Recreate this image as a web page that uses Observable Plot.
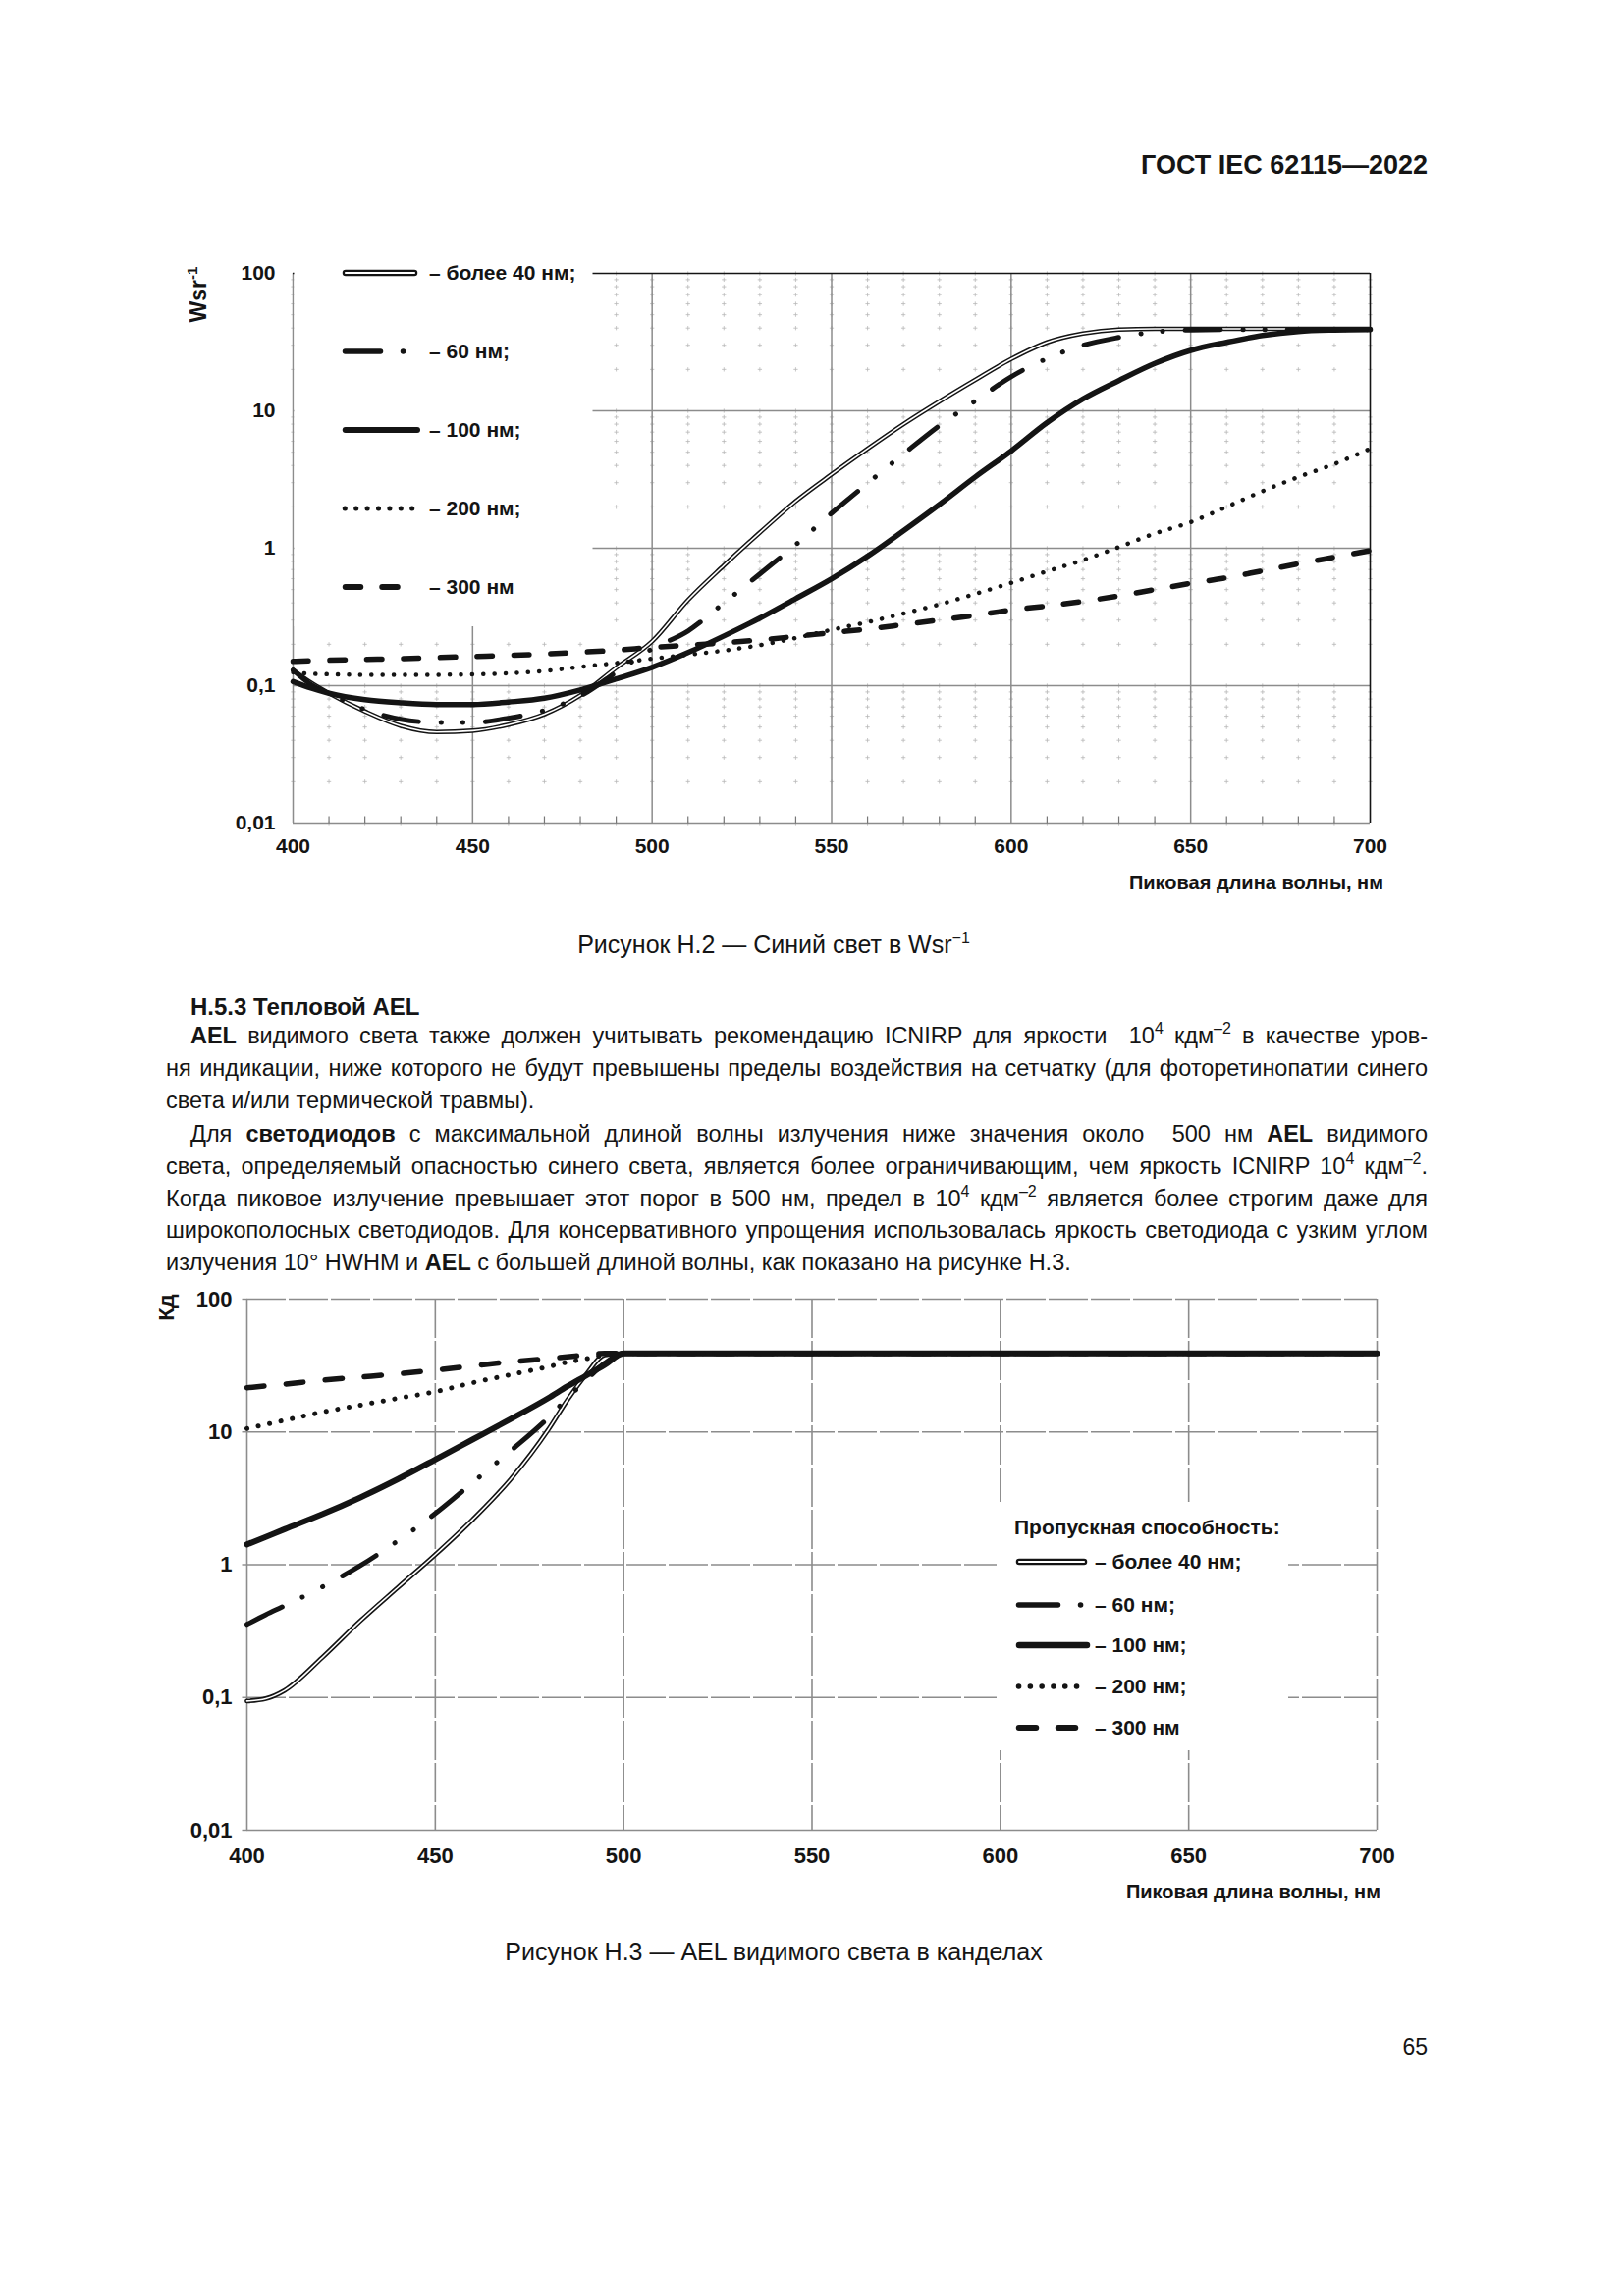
<!DOCTYPE html>
<html><head><meta charset="utf-8">
<script src="https://cdn.jsdelivr.net/npm/d3@7"></script>
<script src="https://cdn.jsdelivr.net/npm/@observablehq/plot@0.6"></script>
<style>
html,body{margin:0;padding:0;background:#fff;}
#page{position:relative;width:1654px;height:2339px;background:#fff;font-family:"Liberation Sans",Arial,sans-serif;color:#151515;overflow:hidden;}
.abs{position:absolute;white-space:nowrap;line-height:33px;}
.ln{position:absolute;left:169px;width:1285px;height:33px;line-height:33px;font-size:23.5px;}
.ind{left:194px;width:1260px;}
.j{text-align:justify;text-align-last:justify;}
sup{font-size:16px;line-height:0;vertical-align:baseline;position:relative;top:-10px;}
.chart{position:absolute;}
</style></head>
<body><div id="page">
<div class="abs" style="right:200px;top:152px;font-size:27px;font-weight:bold;">ГОСТ IEC 62115—2022</div>
<div class="chart" id="c1" style="left:150px;top:240px;"></div>
<div class="abs" style="left:0;width:1576px;text-align:center;top:946px;font-size:25px;">Рисунок Н.2 — Синий свет в Wsr<sup>−1</sup></div>
<div class="ln ind" style="top:1009px;font-weight:bold;font-size:24px;">Н.5.3 Тепловой AEL</div>
<div class="ln ind j" style="top:1039px;"><b>AEL</b> видимого света также должен учитывать рекомендацию ICNIRP для яркости&nbsp; 10<sup>4</sup> кдм<sup>–2</sup> в качестве уров-</div>
<div class="ln j" style="top:1072px;">ня индикации, ниже которого не будут превышены пределы воздействия на сетчатку (для фоторетинопатии синего</div>
<div class="ln" style="top:1105px;">света и/или термической травмы).</div>
<div class="ln ind j" style="top:1139px;">Для <b>светодиодов</b> с максимальной длиной волны излучения ниже значения около&nbsp; 500 нм <b>AEL</b> видимого</div>
<div class="ln j" style="top:1172px;">света, определяемый опасностью синего света, является более ограничивающим, чем яркость ICNIRP 10<sup>4</sup> кдм<sup>–2</sup>.</div>
<div class="ln j" style="top:1205px;">Когда пиковое излучение превышает этот порог в 500 нм, предел в 10<sup>4</sup> кдм<sup>–2</sup> является более строгим даже для</div>
<div class="ln j" style="top:1237px;">широкополосных светодиодов. Для консервативного упрощения использовалась яркость светодиода с узким углом</div>
<div class="ln" style="top:1270px;">излучения 10° HWHM и <b>AEL</b> с большей длиной волны, как показано на рисунке Н.3.</div>
<div class="chart" id="c2" style="left:150px;top:1300px;"></div>
<div class="abs" style="left:0;width:1576px;text-align:center;top:1972px;font-size:25px;">Рисунок Н.3 — AEL видимого света в канделах</div>
<div class="abs" style="right:200px;top:2069px;font-size:23px;">65</div>
</div>
<script>
// keep every text line on one line: tighten letter-spacing only if a line would wrap
document.querySelectorAll('.ln').forEach(el => {
  const avail = el.clientWidth;
  const span = document.createElement('span');
  span.style.whiteSpace = 'nowrap';
  while (el.firstChild) span.appendChild(el.firstChild);
  el.appendChild(span);
  const w = span.getBoundingClientRect().width;
  if (w > avail - 2) {
    const n = span.textContent.length;
    el.style.letterSpacing = ((avail - 2 - w) / n) + 'px';
  }
  span.style.whiteSpace = 'normal';
});

// ---------- data ----------
const xTicks = [400, 450, 500, 550, 600, 650, 700];
const yTicks = [0.01, 0.1, 1, 10, 100];
const yTickLabels = ["0,01", "0,1", "1", "10", "100"];
const minorX = [410,420,430,440,460,470,480,490,510,520,530,540,560,570,580,590,610,620,630,640,660,670,680,690];
const minorFactors = [2, 3, 4, 5, 6, 7, 8, 9];
const seriesLabels = ["– более 40 нм;", "– 60 нм;", "– 100 нм;", "– 200 нм;", "– 300 нм"];
const legendTitle2 = "Пропускная способность:";
const yTitle1 = "Wsr";
const yTitle1Sup = "-1";
const yTitle2 = "Кд";
const xTitle = "Пиковая длина волны, нм";

// Figure H.2 — blue light, Wsr^-1
const wavelengths1 = [400,405,410,420,430,440,450,460,470,480,490,500,510,520,530,540,550,560,570,580,590,600,610,620,630,640,650,660,670,680,690,700];
const blue40  = [0.13,0.105,0.088,0.065,0.051,0.046,0.047,0.052,0.062,0.085,0.135,0.21,0.42,0.75,1.3,2.2,3.45,5.3,8.0,11.7,16.8,23.8,31.5,36.5,39,39.5,39.5,39.5,39.5,39.5,39.5,39.5];
const blue60  = [0.13,0.102,0.088,0.067,0.057,0.054,0.054,0.058,0.066,0.084,0.125,0.185,0.25,0.40,0.65,1.06,1.8,2.97,4.85,7.8,11.8,17.7,24,30,34.2,37.5,38.7,39,39,39,39,39];
const blue100 = [0.107,0.096,0.088,0.079,0.075,0.073,0.073,0.076,0.081,0.093,0.112,0.136,0.174,0.23,0.31,0.43,0.6,0.875,1.34,2.08,3.3,5.1,8.2,12.2,16.6,22.1,27.5,31.5,35.3,37.8,38.7,39];
const blue200 = [0.125,0.122,0.121,0.12,0.12,0.12,0.121,0.123,0.128,0.137,0.146,0.157,0.168,0.18,0.197,0.222,0.255,0.29,0.335,0.39,0.465,0.56,0.68,0.82,1.02,1.28,1.55,2.0,2.6,3.3,4.1,5.3];
const blue300 = [0.15,0.152,0.153,0.155,0.157,0.16,0.163,0.166,0.17,0.175,0.181,0.19,0.197,0.205,0.215,0.228,0.243,0.258,0.278,0.3,0.325,0.355,0.38,0.41,0.45,0.5,0.555,0.61,0.685,0.77,0.86,0.96];

// Figure H.3 — visible AEL, cd
const wavelengths2 = [400,405,410,420,430,440,450,460,470,480,485,490,495,500,550,600,650,700];
const cd40  = [0.094,0.098,0.113,0.2,0.375,0.67,1.19,2.2,4.4,10.4,17.3,27,38,39,39,39,39,39];
const cd60  = [0.355,0.42,0.49,0.68,0.98,1.51,2.43,4.17,7.2,12.8,17.9,24.5,33,39,39,39,39,39];
const cd100 = [1.42,1.62,1.85,2.4,3.2,4.4,6.2,8.8,12.5,18,22,26.5,32,39,39,39,39,39];
const cd200 = [10.6,11.4,12.25,14.1,15.9,17.9,20.1,23.5,27,31,33.5,35.5,38,39,39,39,39,39];
const cd300 = [21.5,22.2,22.9,24.5,25.9,27.4,29.2,31.5,33.7,35.7,36.8,38,39,39,39,39,39,39];

// ---------- styles ----------
const INK = "#141414";
const GRID = "#8c8c8c";
const FONT = "Liberation Sans, Arial, sans-serif";
const styles1 = [
  {kind: "double", outer: 4.6, inner: 1.6},
  {width: 5, dash: "36,23,0.1,22,0.1,23"},
  {width: 5.5, dash: null},
  {width: 4.5, dash: "0.1,11.3"},
  {width: 5.5, dash: "15.5,22"}
];
const styles2 = [
  {kind: "double", outer: 4.8, inner: 1.6},
  {width: 5, dash: "40,23,0.1,23,0.1,23"},
  {width: 6, dash: null},
  {width: 5, dash: "0.1,11.7"},
  {width: 5.5, dash: "17.5,22.5"}
];

const rowsOf = (ws, vs) => ws.map((w, i) => ({w, v: vs[i]}));
function seriesMarks(rows, st) {
  const base = {x: "w", y: "v", curve: "monotone-x", strokeLinecap: "round", strokeLinejoin: "round"};
  if (st.kind === "double") {
    return [
      Plot.line(rows, {...base, stroke: INK, strokeWidth: st.outer}),
      Plot.line(rows, {...base, stroke: "white", strokeWidth: st.inner})
    ];
  }
  return [Plot.line(rows, {...base, stroke: INK, strokeWidth: st.width, strokeDasharray: st.dash || undefined})];
}
const tickUp = {draw(ctx) { ctx.moveTo(0, 0); ctx.lineTo(0, -7); }};
const tickLeft = {draw(ctx) { ctx.moveTo(0, 0); ctx.lineTo(-5, 0); }};

function sampleLine(g, x1, x2, y, st) {
  if (st.kind === "double") {
    g.append("line").attr("x1", x1 + 3).attr("x2", x2 - 3).attr("y1", y).attr("y2", y)
      .attr("stroke", INK).attr("stroke-width", 6.5).attr("stroke-linecap", "round");
    g.append("line").attr("x1", x1 + 3).attr("x2", x2 - 3).attr("y1", y).attr("y2", y)
      .attr("stroke", "white").attr("stroke-width", 2.2).attr("stroke-linecap", "round");
  } else {
    g.append("line").attr("x1", x1 + st.width / 2).attr("x2", x2).attr("y1", y).attr("y2", y)
      .attr("stroke", INK).attr("stroke-width", st.width + 0.5).attr("stroke-linecap", "round")
      .attr("stroke-dasharray", st.dash);
  }
}
function label(g, x, y, txt, size, anchor) {
  return g.append("text").attr("x", x).attr("y", y).attr("dy", "0.35em")
    .attr("text-anchor", anchor || "start").attr("font-family", FONT)
    .attr("font-size", size).attr("font-weight", "bold").attr("fill", INK).text(txt);
}

// ---------- chart 1 ----------
{
  const series = [blue40, blue60, blue100, blue200, blue300];
  const minorY = yTicks.slice(0, -1).flatMap(d => minorFactors.map(f => d * f));
  const crossings = [
    ...minorX.flatMap(x => [...minorY, ...yTicks].map(y => ({x, y}))),
    ...xTicks.flatMap(x => minorY.map(y => ({x, y})))
  ];
  const svg = Plot.plot({
    width: 1300, height: 700,
    marginLeft: 148, marginRight: 55, marginTop: 38, marginBottom: 102,
    x: {domain: [400, 700], axis: null},
    y: {type: "log", domain: [0.01, 100], axis: null},
    style: {fontFamily: FONT, background: "transparent", color: INK},
    marks: [
      Plot.dot(crossings, {x: "x", y: "y", symbol: "plus", r: 1.5, stroke: "#b8b8b8", strokeWidth: 0.8, fill: "none"}),
      Plot.ruleX(xTicks.slice(1, -1), {stroke: GRID, strokeWidth: 1.5}),
      Plot.ruleY(yTicks.slice(1, -1), {stroke: GRID, strokeWidth: 1.5}),
      Plot.ruleX(xTicks.slice(0, 1), {stroke: GRID, strokeWidth: 1.5}),
      Plot.ruleY(yTicks.slice(0, 1), {stroke: GRID, strokeWidth: 1.5}),
      Plot.ruleY(yTicks.slice(-1), {stroke: INK, strokeWidth: 1.6}),
      Plot.ruleX(xTicks.slice(-1), {stroke: INK, strokeWidth: 1.6}),
      Plot.dot(minorX, {x: d => d, frameAnchor: "bottom", symbol: tickUp, stroke: "#777", strokeWidth: 1.2, fill: "none"}),
      Plot.text(xTicks, {x: d => d, frameAnchor: "bottom", dy: 30, text: d => String(d), fontSize: 21, fontWeight: "bold", fill: INK}),
      Plot.text(yTicks, {y: d => d, frameAnchor: "left", dx: -18, textAnchor: "end", text: (d, i) => yTickLabels[i], fontSize: 21, fontWeight: "bold", fill: INK}),
      ...series.flatMap((vs, i) => seriesMarks(rowsOf(wavelengths1, vs), styles1[i]))
    ]
  });
  const first = svg.querySelector('g[aria-label="line"]');
  const gNode = document.createElementNS("http://www.w3.org/2000/svg", "g");
  svg.insertBefore(gNode, first);
  const g = d3.select(gNode);
  g.append("rect").attr("x", 149.5).attr("y", 10).attr("width", 304).attr("height", 388).attr("fill", "white");
  const rowsY = [38, 118, 198, 278, 358];
  styles1.forEach((st, i) => {
    sampleLine(g, 199, 275, rowsY[i], st);
    label(g, 287, rowsY[i], seriesLabels[i], 21);
  });
  const s = d3.select(svg);
  const t = s.append("text").attr("transform", "translate(52,60) rotate(-90)").attr("text-anchor", "middle")
    .attr("font-family", FONT).attr("font-size", 23).attr("font-weight", "bold").attr("fill", INK).attr("dy", "0.35em");
  t.append("tspan").text(yTitle1);
  t.append("tspan").attr("dy", -9).attr("font-size", 15).text(yTitle1Sup);
  label(s, 1259, 659, xTitle, 20, "end");
  document.getElementById("c1").appendChild(svg);
}

// ---------- chart 2 ----------
{
  const series = [cd40, cd60, cd100, cd200, cd300];
  const gridDash = "40,3";
  const svg = Plot.plot({
    width: 1300, height: 650,
    marginLeft: 101, marginRight: 48, marginTop: 23, marginBottom: 86,
    x: {domain: [400, 700], axis: null},
    y: {type: "log", domain: [0.01, 100], axis: null},
    style: {fontFamily: FONT, background: "transparent", color: INK},
    marks: [
      Plot.ruleX(xTicks.slice(1), {stroke: GRID, strokeWidth: 1.6, strokeDasharray: gridDash}),
      Plot.ruleY(yTicks.slice(1), {stroke: GRID, strokeWidth: 1.6, strokeDasharray: gridDash}),
      Plot.ruleX(xTicks.slice(0, 1), {stroke: GRID, strokeWidth: 1.6}),
      Plot.ruleY(yTicks.slice(0, 1), {stroke: GRID, strokeWidth: 1.6}),
      Plot.dot(yTicks, {y: d => d, frameAnchor: "left", symbol: tickLeft, stroke: GRID, strokeWidth: 1.4, fill: "none"}),
      Plot.text(xTicks, {x: d => d, frameAnchor: "bottom", dy: 33, text: d => String(d), fontSize: 22, fontWeight: "bold", fill: INK}),
      Plot.text(yTicks, {y: d => d, frameAnchor: "left", dx: -15, textAnchor: "end", text: (d, i) => yTickLabels[i], fontSize: 22, fontWeight: "bold", fill: INK}),
      ...series.flatMap((vs, i) => seriesMarks(rowsOf(wavelengths2, vs), styles2[i]))
    ]
  });
  const first = svg.querySelector('g[aria-label="line"]');
  const gNode = document.createElementNS("http://www.w3.org/2000/svg", "g");
  svg.insertBefore(gNode, first);
  const g = d3.select(gNode);
  g.append("rect").attr("x", 865).attr("y", 230).attr("width", 297).attr("height", 253).attr("fill", "white");
  label(g, 883, 256, legendTitle2, 21);
  const rowsY = [291, 335, 376, 418, 460];
  styles2.forEach((st, i) => {
    sampleLine(g, 885, 957, rowsY[i], st);
    label(g, 965, rowsY[i], seriesLabels[i], 21);
  });
  const s = d3.select(svg);
  s.append("text").attr("transform", "translate(19,32) rotate(-90)").attr("text-anchor", "middle").attr("dy", "0.35em")
    .attr("font-family", FONT).attr("font-size", 22).attr("font-weight", "bold").attr("fill", INK).text(yTitle2);
  label(s, 1256, 627, xTitle, 20, "end");
  document.getElementById("c2").appendChild(svg);
}
</script>
</body></html>
